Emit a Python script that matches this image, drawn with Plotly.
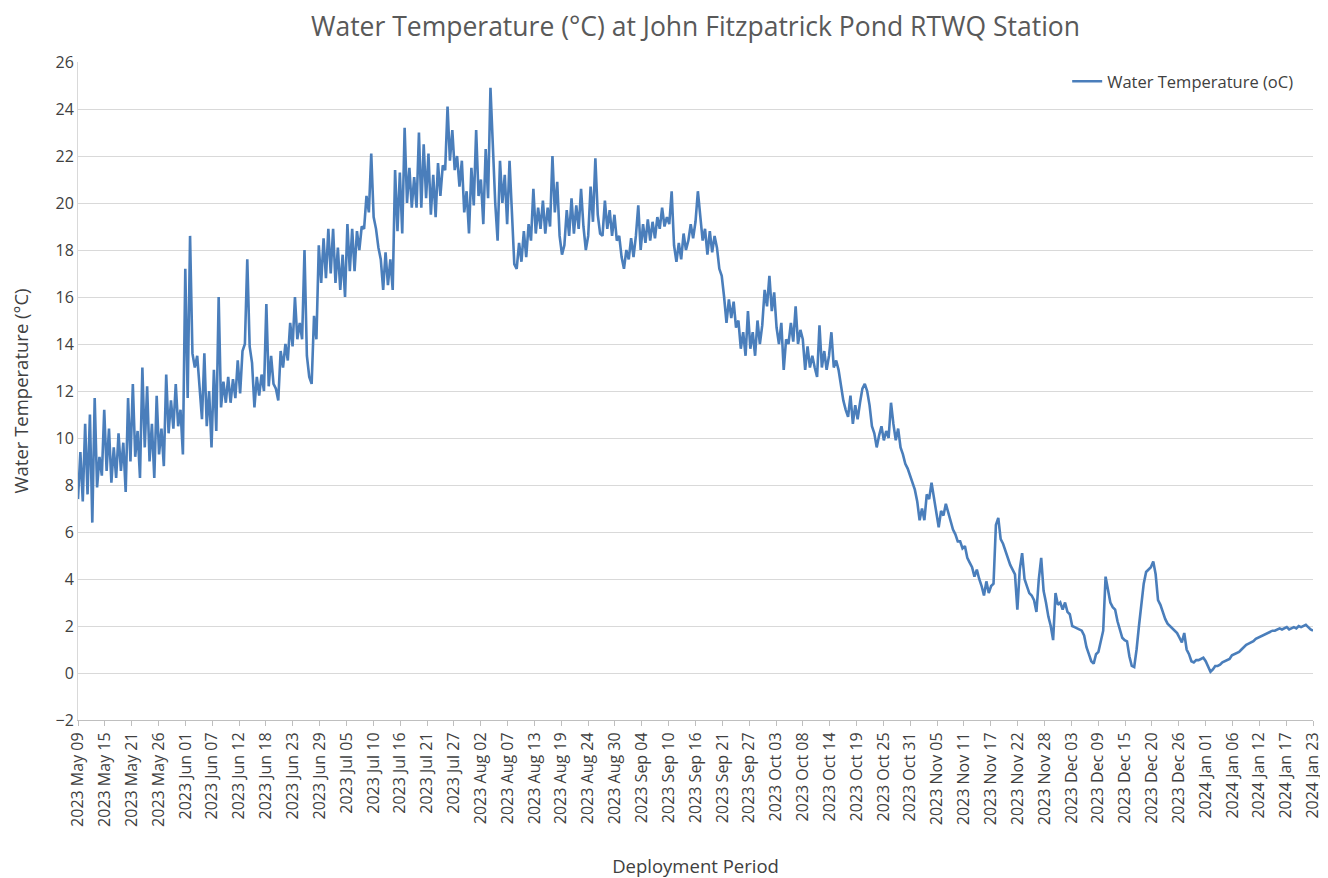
import pandas as pd
import plotly.graph_objects as go

# -----------------------------
# Daten (12-stuendliche Werte)
# -----------------------------
start = "2023-05-09 00:00"
end = "2024-01-23 00:00"

temps = [
    # May 09 - May 15
    7.4, 9.4, 7.3, 10.6, 7.6, 11.0, 6.4, 11.7, 7.9, 9.2, 8.4, 11.2, 8.6, 10.4,
    8.1, 9.6, 8.3, 10.2, 8.6, 9.8, 7.7, 11.7, 9.0, 12.3, 9.2, 10.3, 8.3, 13.0,
    9.6, 12.2, 9.0, 10.6, 8.3, 11.8, 9.3, 10.4, 8.8, 12.7, 10.2, 11.6, 10.4, 12.3,
    # May 30 - Jun 05
    10.5, 11.2, 9.3, 17.2, 11.7, 18.6, 13.6, 13.0, 13.5, 12.2, 10.8, 13.6, 10.5, 12.0,
    9.6, 12.9, 10.3, 16.0, 11.3, 12.4, 11.5, 12.6, 11.5, 12.5, 11.7, 13.3, 11.9, 13.7,
    14.0, 17.6, 13.9, 13.2, 11.3, 12.6, 11.8, 12.7, 12.0, 15.7, 12.2, 13.5, 12.3, 12.1,
    # Jun 20 - Jun 26
    11.6, 13.7, 13.0, 14.0, 13.3, 14.9, 13.9, 16.0, 14.2, 14.9, 14.2, 18.0, 13.5, 12.6,
    12.3, 15.2, 14.2, 18.2, 16.6, 18.5, 16.8, 18.9, 17.0, 18.9, 16.6, 18.1, 16.3, 17.8,
    16.0, 19.1, 17.1, 18.9, 17.1, 18.8, 18.0, 19.0, 18.9, 20.3, 19.6, 22.1, 19.4, 18.9,
    # Jul 11 - Jul 17
    18.1, 17.6, 16.3, 17.9, 16.5, 17.6, 16.3, 21.4, 18.8, 21.3, 18.7, 23.2, 20.0, 21.5,
    19.8, 21.1, 19.8, 23.0, 19.8, 22.5, 20.2, 22.1, 19.5, 21.2, 19.4, 21.7, 20.3, 21.6,
    21.4, 24.1, 21.8, 23.1, 21.4, 22.0, 20.7, 21.8, 19.6, 20.5, 18.7, 21.5, 19.9, 23.1,
    # Aug 01 - Aug 07
    20.3, 21.0, 19.1, 22.3, 20.2, 24.9, 22.5, 20.0, 18.4, 21.8, 20.0, 21.2, 19.1, 21.8,
    19.6, 17.4, 17.2, 18.3, 17.5, 18.8, 17.7, 19.1, 18.4, 20.6, 18.7, 19.8, 18.9, 20.1,
    18.7, 19.8, 19.0, 22.0, 19.6, 20.9, 18.6, 17.8, 18.2, 19.7, 18.6, 20.2, 18.7, 19.9,
    # Aug 22 - Aug 28
    18.9, 20.6, 19.0, 18.0, 18.6, 20.7, 19.2, 21.9, 19.5, 18.7, 18.6, 20.1, 18.9, 19.7,
    18.6, 19.5, 18.4, 18.6, 17.7, 17.2, 18.0, 17.6, 18.5, 17.7, 18.6, 19.9, 18.0, 19.1,
    18.3, 19.3, 18.4, 19.2, 18.5, 19.4, 18.9, 19.8, 19.0, 19.4, 19.1, 20.5, 18.2, 17.5,
    # Sep 12 - Sep 18
    18.3, 17.6, 18.7, 18.0, 18.4, 19.1, 18.5, 19.2, 20.5, 19.3, 18.4, 18.9, 17.8, 18.8,
    17.9, 18.6, 18.1, 17.2, 16.9, 16.0, 14.9, 15.9, 15.1, 15.8, 14.7, 15.0, 13.8, 14.5,
    13.5, 15.4, 13.8, 14.5, 13.5, 15.0, 14.0, 14.8, 16.3, 15.6, 16.9, 15.4, 16.2, 14.7,
    # Oct 03 - Oct 09
    14.0, 14.9, 12.9, 14.2, 14.0, 14.9, 14.1, 15.6, 14.0, 14.6, 14.2, 12.9, 13.9, 13.0,
    13.5, 13.0, 12.6, 14.8, 13.0, 13.7, 12.9, 13.5, 14.5, 13.0, 13.3, 12.9, 12.2, 11.6,
    11.2, 10.9, 11.8, 10.6, 11.4, 10.8, 11.5, 12.1, 12.3, 12.0, 11.4, 10.5, 10.2, 9.6,
    # Oct 24 - Oct 30
    10.1, 10.5, 9.9, 10.3, 10.0, 11.5, 10.6, 9.9, 10.4, 9.6, 9.3, 8.9, 8.7, 8.4,
    8.1, 7.8, 7.3, 6.5, 7.0, 6.5, 7.6, 7.4, 8.1, 7.4, 6.8, 6.2, 6.9, 6.7,
    7.2, 6.8, 6.4, 6.1, 5.9, 5.6, 5.6, 5.3, 5.4, 4.9, 4.7, 4.5, 4.1, 4.4,
    # Nov 14 - Nov 20
    4.0, 3.7, 3.3, 3.9, 3.4, 3.7, 3.8, 6.3, 6.6, 5.7, 5.5, 5.2, 4.95, 4.6,
    4.4, 4.2, 2.7, 4.4, 5.1, 4.0, 3.7, 3.4, 3.3, 3.1, 2.6, 4.0, 4.9, 3.5,
    3.0, 2.4, 2.0, 1.4, 3.4, 2.9, 3.0, 2.7, 3.0, 2.6, 2.5, 2.0, 1.95, 1.9,
    # Dec 05 - Dec 11
    1.85, 1.8, 1.6, 1.1, 0.8, 0.5, 0.4, 0.8, 0.9, 1.3, 1.8, 4.1, 3.5, 3.0,
    2.8, 2.7, 2.2, 1.8, 1.5, 1.4, 1.35, 0.7, 0.3, 0.25, 1.0, 2.0, 3.0, 3.8,
    4.3, 4.4, 4.5, 4.75, 4.2, 3.1, 2.9, 2.6, 2.3, 2.1, 2.0, 1.9, 1.8, 1.7,
    # Dec 26 - Jan 01
    1.5, 1.3, 1.7, 1.0, 0.8, 0.5, 0.45, 0.55, 0.55, 0.6, 0.65, 0.5, 0.25, 0.05,
    0.15, 0.3, 0.3, 0.35, 0.45, 0.5, 0.55, 0.6, 0.75, 0.8, 0.85, 0.9, 1.0, 1.1,
    1.2, 1.25, 1.3, 1.35, 1.45, 1.5, 1.55, 1.6, 1.65, 1.7, 1.75, 1.8, 1.8, 1.85,
    1.9, 1.85, 1.9, 1.95, 1.85, 1.9, 1.95, 1.9, 2.0, 1.95, 2.0, 2.05, 1.95, 1.85,
    1.8,
]

tick_labels = [
    "2023 May 09", "2023 May 15", "2023 May 21", "2023 May 26", "2023 Jun 01",
    "2023 Jun 07", "2023 Jun 12", "2023 Jun 18", "2023 Jun 23", "2023 Jun 29",
    "2023 Jul 05", "2023 Jul 10", "2023 Jul 16", "2023 Jul 21", "2023 Jul 27",
    "2023 Aug 02", "2023 Aug 07", "2023 Aug 13", "2023 Aug 19", "2023 Aug 24",
    "2023 Aug 30", "2023 Sep 04", "2023 Sep 10", "2023 Sep 16", "2023 Sep 21",
    "2023 Sep 27", "2023 Oct 03", "2023 Oct 08", "2023 Oct 14", "2023 Oct 19",
    "2023 Oct 25", "2023 Oct 31", "2023 Nov 05", "2023 Nov 11", "2023 Nov 17",
    "2023 Nov 22", "2023 Nov 28", "2023 Dec 03", "2023 Dec 09", "2023 Dec 15",
    "2023 Dec 20", "2023 Dec 26", "2024 Jan 01", "2024 Jan 06", "2024 Jan 12",
    "2024 Jan 17", "2024 Jan 23",
]

zeit = pd.date_range(start, periods=len(temps), freq="12h")
tick_pos = pd.date_range(start, end, periods=len(tick_labels))

FONT = "Open Sans, Liberation Sans, sans-serif"

# -----------------------------
# Figur (Seite hat 8px Rand, daher etwas kleiner)
# -----------------------------
fig = go.Figure()
fig.add_trace(go.Scatter(
    x=zeit, y=temps, mode="lines",
    line=dict(color="#4A7EBB", width=2.6),
    name="Water Temperature (oC)",
))

fig.update_layout(
    width=1320, height=870,
    paper_bgcolor="white", plot_bgcolor="white",
    margin=dict(l=70, r=15, t=54, b=158),
    font=dict(family=FONT, color="#404040", size=16),
    title=dict(
        text="Water Temperature (°C) at John Fitzpatrick Pond RTWQ Station",
        xref="paper", x=0.5, xanchor="center", y=0.979, yanchor="middle",
        font=dict(size=26.5, color="#595959"),
    ),
    showlegend=True,
    legend=dict(
        x=0.988, xanchor="right", y=0.997, yanchor="top",
        bgcolor="rgba(0,0,0,0)", font=dict(size=16.5, color="#404040"),
    ),
)

fig.update_xaxes(
    type="date", range=[zeit[0], zeit[-1]], automargin=False,
    tickmode="array", tickvals=tick_pos, ticktext=tick_labels,
    tickangle=-90, tickfont=dict(size=16, color="#404040"),
    ticks="outside", ticklen=5, tickcolor="#BFBFBF",
    showline=True, linecolor="#BFBFBF", showgrid=False, zeroline=False,
    title=dict(text="Deployment Period", standoff=37, font=dict(size=18.5, color="#404040")),
)

fig.update_yaxes(
    range=[-2, 26], tick0=0, dtick=2, automargin=False,
    tickfont=dict(size=16, color="#404040"),
    showgrid=True, gridcolor="#D9D9D9", gridwidth=1,
    showline=True, linecolor="#D9D9D9", zeroline=False,
    title=dict(text="Water Temperature (°C)", standoff=26, font=dict(size=18.5, color="#404040")),
)

fig.write_html("out.html")
